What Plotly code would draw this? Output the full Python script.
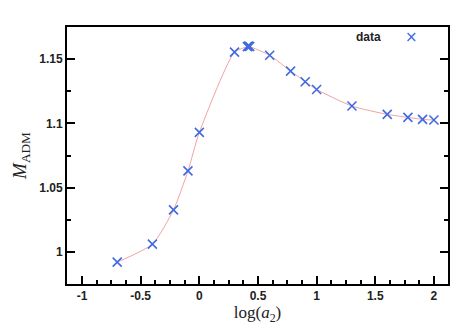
import plotly.graph_objects as go

# log(a2) values and the ADM mass
log_a2 = [-0.70, -0.40, -0.22, -0.097, 0.0, 0.30, 0.41, 0.42, 0.43, 0.60, 0.778, 0.903, 1.0,
          1.301, 1.602, 1.778, 1.903, 2.0]
m_adm = [0.992, 1.006, 1.0327, 1.063, 1.093, 1.1554, 1.1597, 1.1601, 1.1598, 1.153, 1.1407,
         1.1324, 1.1264, 1.1135, 1.107, 1.1047, 1.1031, 1.1026]

x_ticks = [-1, -0.5, 0, 0.5, 1, 1.5, 2]
x_labels = ["-1", "-0.5", "0", "0.5", "1", "1.5", "2"]
y_ticks = [1, 1.05, 1.1, 1.15]
y_labels = ["1", "1.05", "1.1", "1.15"]

tick_font = dict(family="Liberation Sans", size=12, color="#222", weight="bold")

fig = go.Figure()
# thin red curve through the points
fig.add_trace(go.Scatter(x=log_a2, y=m_adm, mode="lines",
                         line=dict(color="rgba(225,90,90,0.55)", width=1, shape="spline", smoothing=0.6),
                         showlegend=False, hoverinfo="skip"))
fig.add_trace(go.Scatter(x=log_a2, y=m_adm, mode="markers", name="data",
                         marker=dict(symbol="x-thin-open", size=9, color="royalblue",
                                     line=dict(color="royalblue", width=1.6)),
                         showlegend=False))

fig.update_layout(
    width=464, height=330,
    margin=dict(l=67, r=16, t=27, b=46),
    plot_bgcolor="white", paper_bgcolor="white",
    xaxis=dict(range=[-1.128, 2.12], tickvals=x_ticks, ticktext=x_labels, automargin=False,
               ticks="inside", ticklen=8, tickwidth=1.5, tickcolor="black",
               minor=dict(dtick=0.125, tick0=0, ticks="inside", ticklen=4, tickwidth=1.5, tickcolor="black"),
               showline=True, linecolor="black", linewidth=2, mirror=True,
               showgrid=False, zeroline=False, tickfont=tick_font,
               title=dict(text="log(<i>a</i><sub>2</sub>)", standoff=4,
                          font=dict(family="Liberation Serif", size=17, color="#222"))),
    yaxis=dict(range=[0.975, 1.175], tickvals=y_ticks, ticktext=y_labels, automargin=False,
               ticks="inside", ticklen=8, tickwidth=1.5, tickcolor="black",
               minor=dict(dtick=0.025, tick0=1, ticks="inside", ticklen=4, tickwidth=1.5, tickcolor="black"),
               showline=True, linecolor="black", linewidth=2, mirror="ticks",
               showgrid=False, zeroline=False, tickfont=tick_font,
               title=dict(text="<i>M</i><sub>ADM</sub>", standoff=8,
                          font=dict(family="Liberation Serif", size=19, color="#222"))),
    annotations=[dict(xref="paper", yref="paper", x=0.829, y=0.961, xanchor="right", yanchor="middle",
                      text="<b>data</b>", showarrow=False,
                      font=dict(family="Liberation Sans", size=12, color="#222")),
                 dict(xref="paper", yref="paper", x=0.903, y=0.961, xanchor="center", yanchor="middle",
                      text="×", showarrow=False,
                      font=dict(family="DejaVu Sans", size=15, color="royalblue"))],
)

# page body has a default 8px margin, drop it so the figure sits at the window corner
fig.write_html("out.html", config={"displayModeBar": False},
               post_script="document.body.style.margin='0';")
